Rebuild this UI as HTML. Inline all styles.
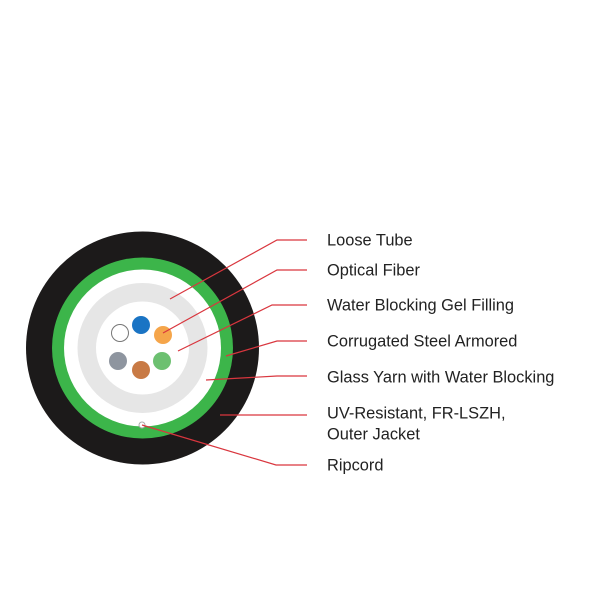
<!DOCTYPE html>
<html><head><style>
html,body{margin:0;padding:0;background:#fff;width:600px;height:600px;overflow:hidden}
svg{display:block}
text{font-family:"Liberation Sans",sans-serif;font-size:16.4px;fill:#222}
</style></head><body>
<svg width="600" height="600" viewBox="0 0 600 600">
<circle cx="142.5" cy="348" r="116.5" fill="#1c1a1a"/>
<circle cx="142.5" cy="348" r="90.5" fill="#3cb54a"/>
<circle cx="142.5" cy="348" r="78.5" fill="#fff"/>
<circle cx="142.5" cy="348" r="65" fill="#e6e6e6"/>
<circle cx="142.5" cy="348" r="46.5" fill="#fff"/>
<circle cx="120" cy="333" r="8.5" fill="#fff" stroke="#777" stroke-width="1"/>
<circle cx="141" cy="325" r="9" fill="#1a74c4"/>
<circle cx="163" cy="335" r="9" fill="#f5a54a"/>
<circle cx="118" cy="361" r="9" fill="#8e959f"/>
<circle cx="141" cy="370" r="9" fill="#c87a45"/>
<circle cx="162" cy="361" r="9" fill="#6cc070"/>
<circle cx="142" cy="425" r="3" fill="#fff" stroke="#aaa" stroke-width="1"/>
<g stroke="#d9363e" stroke-width="1.2" fill="none">
<polyline points="170,299 277,240 307,240"/>
<polyline points="163,333 277,270 307,270"/>
<polyline points="178,351 272,305 307,305"/>
<polyline points="226,356 277,341 307,341"/>
<polyline points="206,380 277,376 307,376"/>
<polyline points="220,415 307,415"/>
<polyline points="142,425 276,465 307,465"/>
</g>
<text x="327" y="245.5">Loose Tube</text>
<text x="327" y="275.5">Optical Fiber</text>
<text x="327" y="310.5">Water Blocking Gel Filling</text>
<text x="327" y="346.5">Corrugated Steel Armored</text>
<text x="327" y="382.5">Glass Yarn with Water Blocking</text>
<text x="327" y="418.5">UV-Resistant, FR-LSZH,</text>
<text x="327" y="439.5">Outer Jacket</text>
<text x="327" y="470.5">Ripcord</text>
</svg>
</body></html>
